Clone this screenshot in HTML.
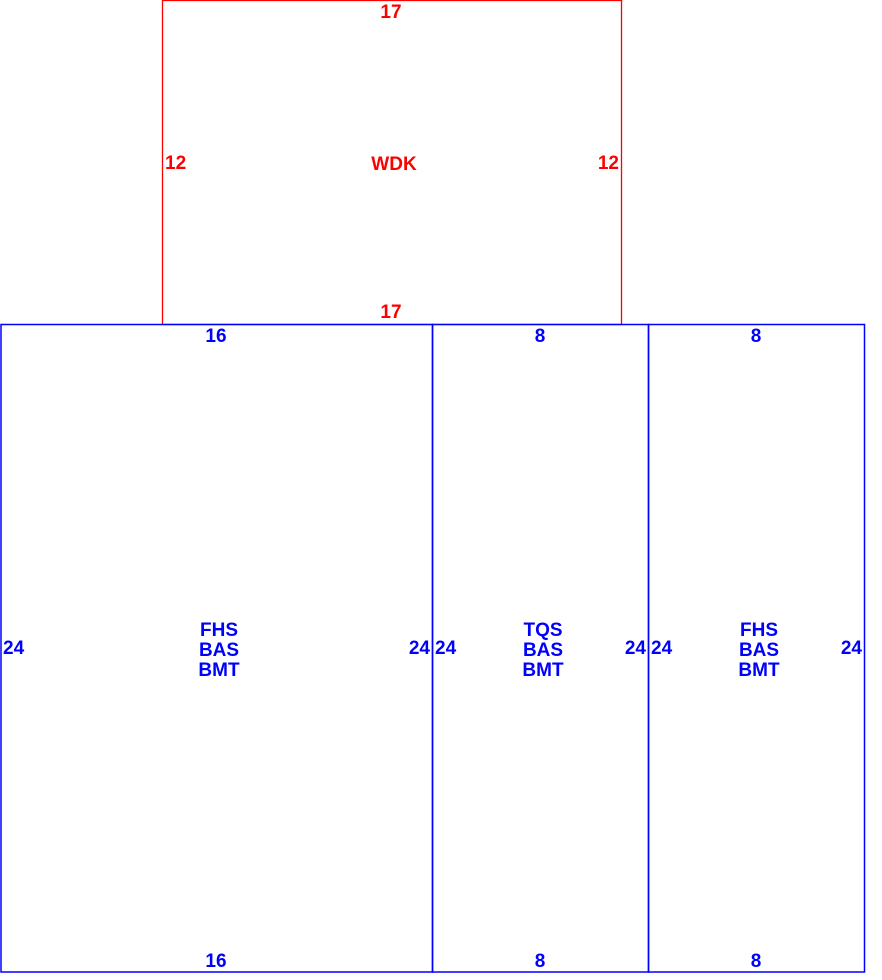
<!DOCTYPE html>
<html><head><style>html,body{margin:0;padding:0;background:#fff;width:882px;height:980px;overflow:hidden}</style></head>
<body>
<svg width="882" height="980" xmlns="http://www.w3.org/2000/svg" font-family="Liberation Sans, Arial, sans-serif" font-weight="bold" font-size="19">
<rect x="162.5" y="0.5" width="459" height="324" fill="none" stroke="#f00" stroke-width="1.3"/>
<g fill="#f00">
<text x="391" y="18" text-anchor="middle">17</text>
<text x="391" y="318" text-anchor="middle">17</text>
<text x="165" y="169">12</text>
<text x="619" y="169" text-anchor="end">12</text>
<text x="394" y="170" text-anchor="middle">WDK</text>
</g>
<g fill="none" stroke="#00f" stroke-width="1.5">
<rect x="1" y="324.5" width="431.5" height="647.5"/>
<rect x="432.5" y="324.5" width="216" height="647.5"/>
<rect x="648.5" y="324.5" width="216" height="647.5"/>
</g>
<g fill="#00f">
<text x="216" y="342" text-anchor="middle">16</text>
<text x="216" y="967" text-anchor="middle">16</text>
<text x="3" y="654">24</text>
<text x="430" y="654" text-anchor="end">24</text>
<text x="219" y="636" text-anchor="middle">FHS</text>
<text x="219" y="656" text-anchor="middle">BAS</text>
<text x="219" y="676" text-anchor="middle">BMT</text>

<text x="540" y="342" text-anchor="middle">8</text>
<text x="540" y="967" text-anchor="middle">8</text>
<text x="435" y="654">24</text>
<text x="646" y="654" text-anchor="end">24</text>
<text x="543" y="636" text-anchor="middle">TQS</text>
<text x="543" y="656" text-anchor="middle">BAS</text>
<text x="543" y="676" text-anchor="middle">BMT</text>

<text x="756" y="342" text-anchor="middle">8</text>
<text x="756" y="967" text-anchor="middle">8</text>
<text x="651" y="654">24</text>
<text x="862" y="654" text-anchor="end">24</text>
<text x="759" y="636" text-anchor="middle">FHS</text>
<text x="759" y="656" text-anchor="middle">BAS</text>
<text x="759" y="676" text-anchor="middle">BMT</text>
</g>
</svg>
</body></html>
